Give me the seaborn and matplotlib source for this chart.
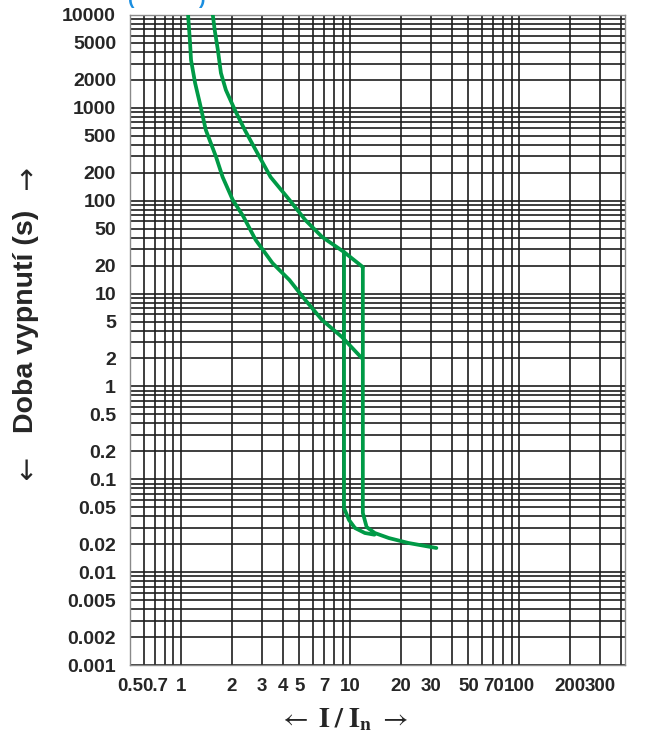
import numpy as np
import matplotlib
matplotlib.use("Agg")
import matplotlib.pyplot as plt
from matplotlib.ticker import FixedLocator, LogLocator, NullFormatter
import seaborn as sns

# trip characteristic (I/In, trip time in s)
min_x = [1.10, 1.13, 1.145, 1.21, 1.29, 1.40, 1.61, 1.76, 2.02, 2.33, 2.76, 3.47, 4.37, 5.42, 6.82, 8.94, 11.7]
min_t = [10000, 4990, 3276, 1852, 1128, 578, 296, 180, 102, 68.0, 37.8, 21.3, 14.0, 8.53, 5.19, 3.40, 2.02]

max_x = [1.54, 1.58, 1.65, 1.72, 1.84, 2.08, 2.38, 2.76, 3.38, 4.37, 5.42, 6.82, 9.19, 11.87]
max_t = [10000, 6900, 4200, 2373, 1557, 948, 578, 352, 180, 102, 62.0, 40.7, 28.0, 19.3]

mag_lo_x = [9.19, 9.19, 9.83, 10.66, 12.2, 13.9]
mag_lo_t = [28.0, 0.049, 0.0365, 0.0299, 0.0264, 0.0253]

mag_hi_x = [11.87, 11.87, 12.5, 13.96, 16.9, 22.1, 32.3]
mag_hi_t = [19.3, 0.0434, 0.0306, 0.0264, 0.0233, 0.0206, 0.0182]

x_ticks = [0.5, 0.7, 1, 2, 3, 4, 5, 7, 10, 20, 30, 50, 70, 100, 200, 300]
x_labels = ["0.5", "0.7", "1", "2", "3", "4", "5", "7", "10", "20", "30", "50", "70", "100", "200", "300"]
y_ticks = [10000, 5000, 2000, 1000, 500, 200, 100, 50, 20, 10, 5, 2, 1,
           0.5, 0.2, 0.1, 0.05, 0.02, 0.01, 0.005, 0.002, 0.001]
y_labels = ["10000", "5000", "2000", "1000", "500", "200", "100", "50", "20", "10", "5", "2", "1",
            "0.5", "0.2", "0.1", "0.05", "0.02", "0.01", "0.005", "0.002", "0.001"]

sns.set_style("white")
plt.rcParams["font.family"] = ["Liberation Sans", "DejaVu Sans"]
plt.rcParams["mathtext.fontset"] = "stix"

green = "#009a46"

fig = plt.figure(figsize=(6.52, 7.34), dpi=100)
ax = fig.add_axes([0.1994, 0.0940, 0.7592, 0.8856])

for xs, ts in [(min_x, min_t), (max_x, max_t), (mag_lo_x, mag_lo_t), (mag_hi_x, mag_hi_t)]:
    sns.lineplot(x=xs, y=ts, sort=False, estimator=None, color=green, lw=2.7, ax=ax, zorder=3)

ax.set_xscale("log")
ax.set_yscale("log")
ax.set_xlim(0.499, 421)
ax.set_ylim(0.001, 10000)

ax.xaxis.set_major_locator(FixedLocator(x_ticks))
ax.xaxis.set_minor_locator(LogLocator(base=10, subs=np.arange(1, 10), numticks=20))
ax.xaxis.set_minor_formatter(NullFormatter())
ax.set_xticklabels(x_labels)
ax.yaxis.set_major_locator(FixedLocator(y_ticks))
ax.yaxis.set_minor_locator(LogLocator(base=10, subs=np.arange(1, 10), numticks=20))
ax.yaxis.set_minor_formatter(NullFormatter())
ax.set_yticklabels(y_labels)

ax.grid(True, which="both", color="#1e1e1e", lw=1.2)
ax.set_axisbelow(True)
ax.tick_params(which="both", length=0)
ax.tick_params(axis="x", pad=9, labelsize=13.5)
ax.tick_params(axis="y", pad=10, labelsize=14)
for lab in ax.get_xticklabels() + ax.get_yticklabels():
    lab.set_fontweight("bold")
for sp in ax.spines.values():
    sp.set_color("#8a8a8a")
    sp.set_linewidth(1.0)

ax.set_xlabel("")
ax.set_ylabel("")

# y axis title with its arrows
fig.text(0.040, 0.562, "Doba vypnut\u00ed (s)", rotation=90,
         ha="center", va="center", fontsize=20.5, fontweight="bold")
fig.text(0.040, 1 - 182 / 734, "\u2191", ha="center", va="center",
         fontsize=20, family=["DejaVu Sans"])
fig.text(0.040, 1 - 472 / 734, "\u2193", ha="center", va="center",
         fontsize=20, family=["DejaVu Sans"])

fig.text(0.526, 0.020, r"$\leftarrow\ \mathbf{I\;/\;I_n}\ \rightarrow$",
         ha="center", va="center", fontsize=20)
# title above the frame, cut off by the top edge
fig.text(0.256, 1 - 4 / 734, "(            )", ha="center", va="baseline",
         fontsize=14, fontweight="bold", color="#1a8ee0")

fig.savefig("out.png", dpi=100)
